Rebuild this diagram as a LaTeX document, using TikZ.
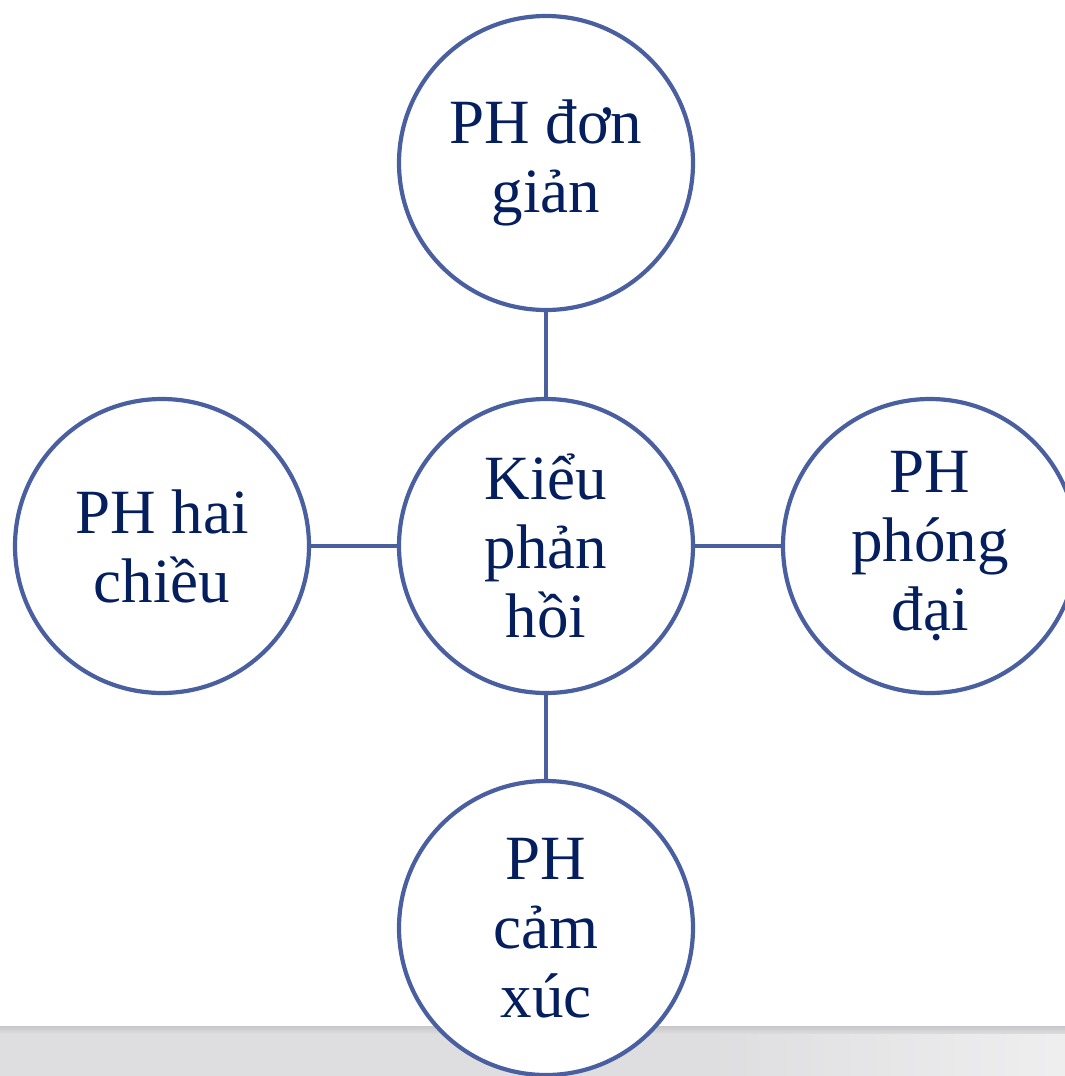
\documentclass[tikz,border=0pt]{standalone}
\usepackage{fontspec}
\setmainfont{Liberation Serif}
\definecolor{ringblue}{HTML}{4A5F9F}
\definecolor{inkblue}{HTML}{041E5E}
\definecolor{bandgray}{HTML}{DEDEE0}
\definecolor{bandedge}{HTML}{C8C8CA}
\begin{document}
\begin{tikzpicture}[x=1pt,y=-1pt,
  bubble/.style={circle,draw=ringblue,line width=4.2pt,fill=white,
    minimum size=294pt,inner sep=0pt,align=center,text=inkblue,
    font=\fontsize{63}{69}\selectfont},
  link/.style={draw=ringblue,line width=4.2pt}]
  \useasboundingbox (0,0) rectangle (1065,1076);
  % grey floor band along the lower edge
  \shade[top color=bandedge,bottom color=bandgray] (0,1026) rectangle (1065,1034);
  \fill[bandgray] (0,1034) rectangle (1065,1076);
  \shade[left color=bandgray,right color=white!85!bandgray,opacity=0.6] (700,1034) rectangle (1065,1076);
  % bubbles
  \node[bubble] (hub)    at (546,546) {Kiểu\\phản\\hồi};
  \node[bubble] (top)    at (546,163) {PH đơn\\giản};
  \node[bubble] (left)   at (162,546) {PH hai\\chiều};
  \node[bubble] (right)  at (930,546) {PH\\phóng\\đại};
  \node[bubble] (bottom) at (546,928) {PH\\cảm\\xúc};
  % spokes
  \draw[link] (hub) -- (top);
  \draw[link] (hub) -- (left);
  \draw[link] (hub) -- (right);
  \draw[link] (hub) -- (bottom);
\end{tikzpicture}
\end{document}
